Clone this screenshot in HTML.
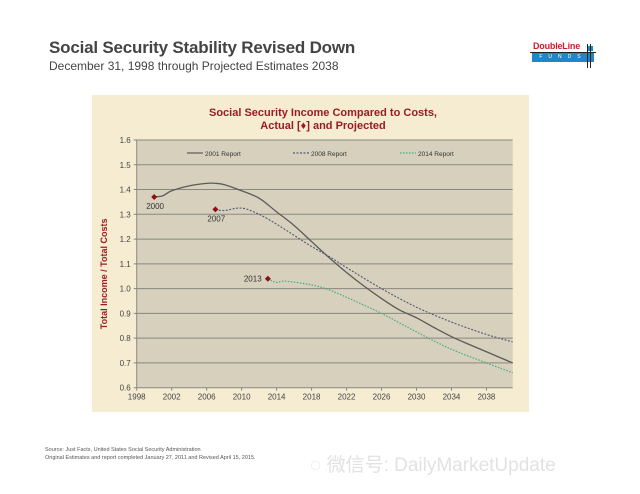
<!DOCTYPE html>
<html><head><meta charset="utf-8">
<style>
body{margin:0;width:640px;height:494px;background:#fff;font-family:"Liberation Sans",sans-serif;position:relative;overflow:hidden}
.abs{position:absolute}
</style></head><body>
<div class="abs" style="left:49px;top:38px;font-size:17px;font-weight:bold;color:#444;letter-spacing:-0.2px">Social Security Stability Revised Down</div>
<div class="abs" style="left:49px;top:59px;font-size:12px;color:#444">December 31, 1998 through Projected Estimates 2038</div>
<div class="abs" style="left:530px;top:40px;width:66px;height:28px">
  <div class="abs" style="left:3px;top:1px;font-size:9px;font-weight:bold;color:#c8202f;letter-spacing:-0.2px">DoubleLine</div>
  <div class="abs" style="left:58px;top:6px;width:5px;height:5px;background:#1f87c8"></div>
  <div class="abs" style="left:2px;top:13px;width:62px;height:9px;background:#1f87c8;color:#fff;font-size:5px;letter-spacing:6px;line-height:9px;text-align:center">FUNDS</div>
  <div class="abs" style="left:0;top:12px;width:66px;height:1px;background:#222"></div>
  <div class="abs" style="left:57px;top:4px;width:1px;height:24px;background:#222"></div>
  <div class="abs" style="left:60px;top:4px;width:1px;height:24px;background:#222"></div>
</div>
<svg class="abs" style="left:0;top:0" width="640" height="494">
<rect x="92" y="95" width="437" height="317" fill="#f5ecd2"/>
<g id="plot"></g>
</svg>
<div class="abs" style="left:45px;top:446px;font-size:5.5px;color:#555;line-height:8px">Source: Just Facts, United States Social Security Administration<br>Original Estimates and report completed January 27, 2011 and Revised April 15, 2015.</div>
<div class="abs" style="left:310px;top:450px;font-size:19px;color:#e2e2e2;font-family:'Liberation Sans','Noto Sans CJK SC',sans-serif">◌ 微信号: DailyMarketUpdate</div>
<script>
const yTicks=[0.6,0.7,0.8,0.9,1.0,1.1,1.2,1.3,1.4,1.5,1.6];
const xTicks=[1998,2002,2006,2010,2014,2018,2022,2026,2030,2034,2038];
const years2001=[2000,2001,2002,2004,2006,2007,2008,2010,2012,2014,2016,2018,2020,2022,2024,2026,2028,2030,2032,2034,2036,2038,2041];
const vals2001=[1.37,1.375,1.395,1.415,1.425,1.425,1.42,1.395,1.365,1.31,1.255,1.19,1.125,1.065,1.01,0.96,0.915,0.882,0.843,0.806,0.775,0.745,0.70];
const years2008=[2007,2008,2010,2012,2014,2016,2018,2020,2022,2026,2030,2034,2038,2041];
const vals2008=[1.32,1.315,1.325,1.30,1.26,1.215,1.17,1.13,1.085,1.0,0.925,0.865,0.815,0.785];
const years2014=[2013,2014,2015,2018,2020,2022,2026,2030,2034,2038,2041];
const vals2014=[1.04,1.025,1.03,1.015,0.995,0.965,0.90,0.825,0.755,0.70,0.66];
const actualYears=[2000,2007,2013];
const actualVals=[1.37,1.32,1.04];
const NS='http://www.w3.org/2000/svg';
const L=136.7,R=512.7,T=140,B=387.7;
const x=v=>L+(v-1998)*(R-L)/43;
const y=v=>B-(v-0.6)*(B-T)/1.0;
const g=document.getElementById('plot');
function mk(t,a,p){const e=document.createElementNS(NS,t);for(const k in a)e.setAttribute(k,a[k]);(p||g).appendChild(e);return e;}
let bg=mk('rect',{x:L,y:T,width:R-L,height:B-T,fill:'#d6d0bd'});


yTicks.forEach(t=>{
  let ln=mk('line',{x1:L-3,x2:R,y1:y(t),y2:y(t),stroke:'#8a8780','stroke-width':1});
  
  
  let tx=mk('text',{x:L-6,y:y(t)+3,'text-anchor':'end','font-size':8,fill:'#444'});
  tx.textContent=t.toFixed(1);
  
  
});
mk('line',{x1:L,x2:L,y1:T,y2:B,stroke:'#8a8780'});
xTicks.forEach(t=>{
  mk('line',{x1:x(t),x2:x(t),y1:B,y2:B+3,stroke:'#8a8780'});
  let tx=mk('text',{x:x(t),y:B+12,'text-anchor':'middle','font-size':8,fill:'#444'});
  tx.textContent=t;
  
  
});
function smooth(xs,vs){
  const p=xs.map((v,i)=>[x(v),y(vs[i])]);
  let d='M'+p[0][0]+','+p[0][1];
  for(let i=0;i<p.length-1;i++){
    const p0=p[i-1]||p[i],p1=p[i],p2=p[i+1],p3=p[i+2]||p2;
    const c1=[p1[0]+(p2[0]-p0[0])/6,p1[1]+(p2[1]-p0[1])/6];
    const c2=[p2[0]-(p3[0]-p1[0])/6,p2[1]-(p3[1]-p1[1])/6];
    d+=' C'+c1+' '+c2+' '+p2;
  }
  return d;
}
let s1=mk('path',{d:smooth(years2001,vals2001),fill:'none',stroke:'#5e5a58','stroke-width':1.3});


let s2=mk('path',{d:smooth(years2008,vals2008),fill:'none',stroke:'#4f5a7a','stroke-width':1.1,'stroke-dasharray':'2,1.5'});


let s3=mk('path',{d:smooth(years2014,vals2014),fill:'none',stroke:'#3fb07a','stroke-width':1.2,'stroke-dasharray':'1.5,1.5'});


const labOff=[[-8,12],[-8,12],[-24,3]];
actualYears.forEach((yr,i)=>{
  const cx=x(yr),cy=y(actualVals[i]);
  let m=mk('path',{d:`M${cx},${cy-3}L${cx+3},${cy}L${cx},${cy+3}L${cx-3},${cy}Z`,fill:'#8b1010'});
  
  
  let t=mk('text',{x:cx+labOff[i][0],y:cy+labOff[i][1],'font-size':8,fill:'#333'});
  t.textContent=yr;
  
  
});
const legendNames=['2001 Report','2008 Report','2014 Report'];
const legendX=[187,293,400];
const legendStyles=[['#5e5a58',''],['#4f5a7a','2,1.5'],['#3fb07a','1.5,1.5']];
legendNames.forEach((n,i)=>{
  mk('line',{x1:legendX[i],x2:legendX[i]+16,y1:153,y2:153,stroke:legendStyles[i][0],'stroke-width':1.2,'stroke-dasharray':legendStyles[i][1]});
  let t=mk('text',{x:legendX[i]+18,y:156,'font-size':6.5,fill:'#333'});
  t.textContent=n;
  
  
});
let t1=mk('text',{x:323,y:116,'text-anchor':'middle','font-size':11,'font-weight':'bold',fill:'#9a1c24'});
t1.textContent='Social Security Income Compared to Costs,';


let t2=mk('text',{x:323,y:129,'text-anchor':'middle','font-size':11,'font-weight':'bold',fill:'#9a1c24'});
t2.textContent='Actual [\u2666] and Projected';


let yt=mk('text',{x:0,y:0,'text-anchor':'middle','font-size':9,'font-weight':'bold',fill:'#9a1c24',transform:`translate(107,${(T+B)/2+10}) rotate(-90)`});
yt.textContent='Total Income / Total Costs';


</script>
</body></html>
